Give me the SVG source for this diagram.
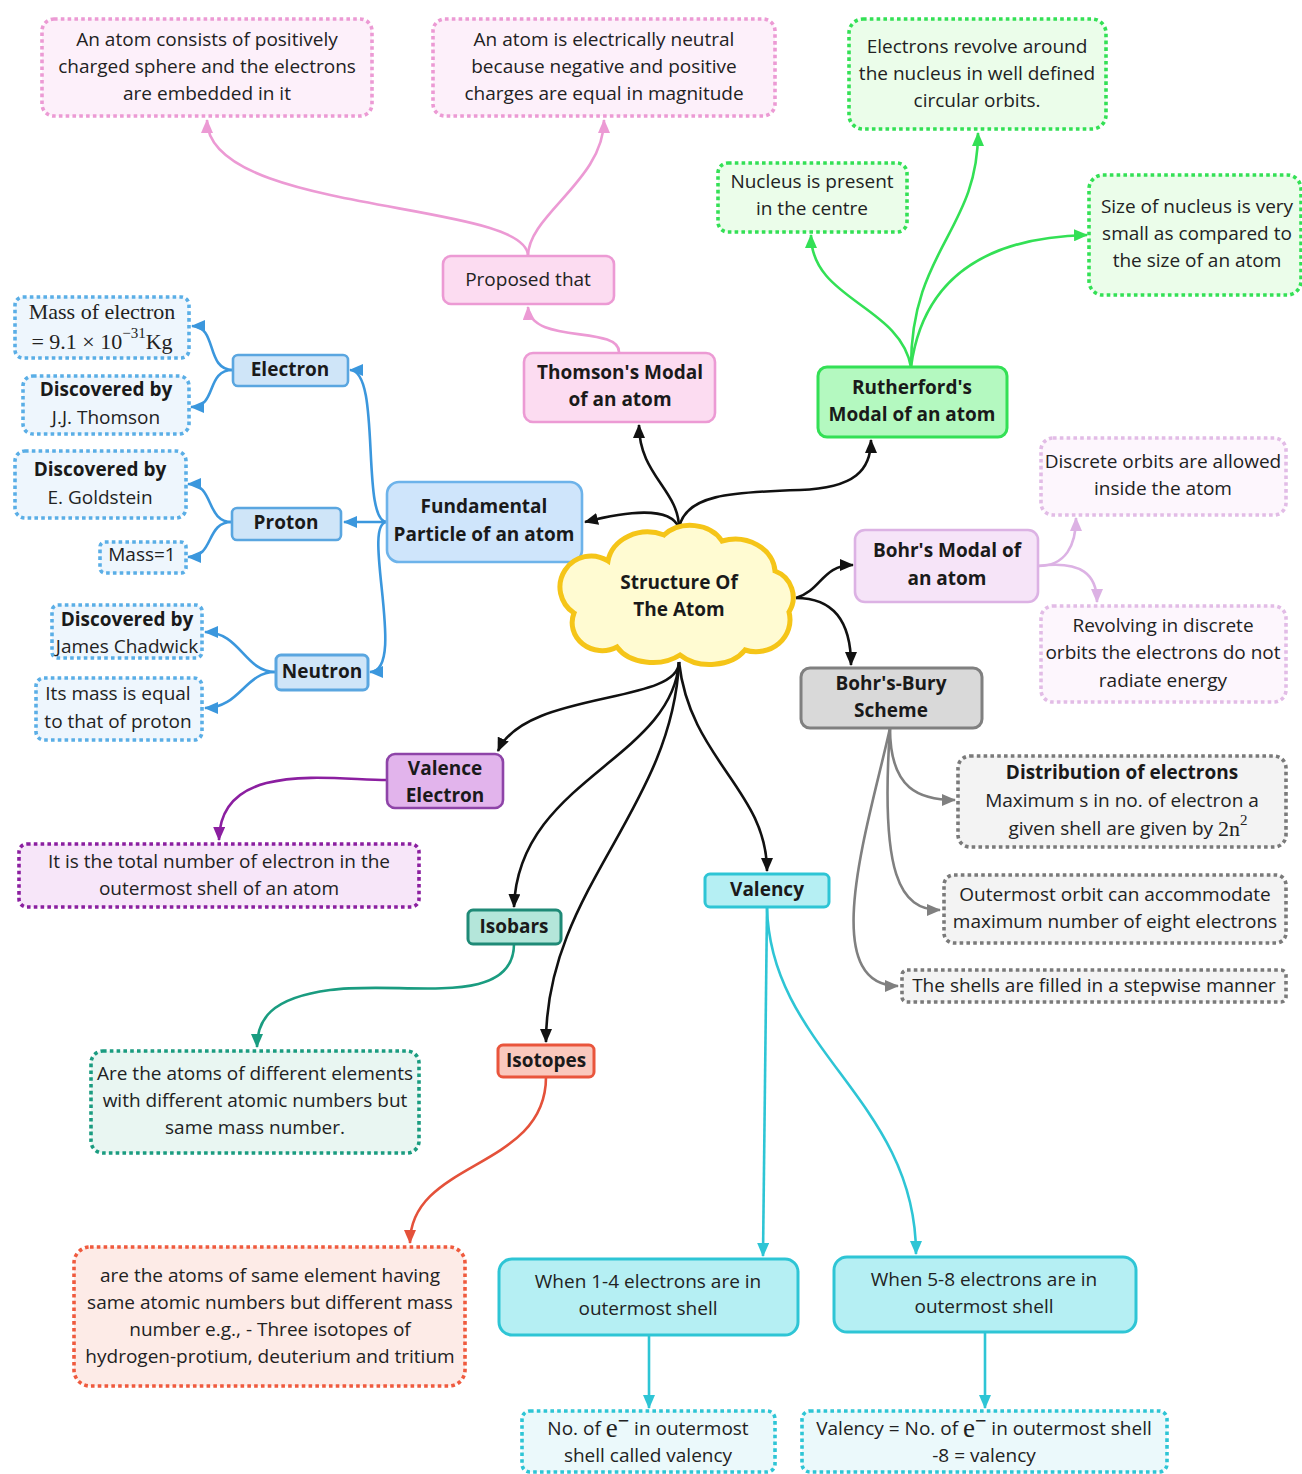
<svg xmlns="http://www.w3.org/2000/svg" width="1302" height="1474" viewBox="0 0 1302 1474">
<style>
text{font-family:"Open Sans","Noto Sans",sans-serif;font-size:19px;fill:#222;text-anchor:middle;dominant-baseline:central}
.b{font-weight:700;fill:#1a1a1a}
.m{font-family:"Liberation Serif","DejaVu Serif",serif;font-size:22px}
.c{fill:none;stroke-width:2.6}
.d{stroke-width:3.6;stroke-dasharray:3.6 3.2}
.s{stroke-width:2.6}
</style>
<defs>
<marker id="aK" viewBox="0 0 14 12" refX="13" refY="6" markerWidth="14" markerHeight="12" markerUnits="userSpaceOnUse" orient="auto"><path d="M0,0L14,6L0,12z" fill="#111"/></marker>
<marker id="aP" viewBox="0 0 14 12" refX="13" refY="6" markerWidth="14" markerHeight="12" markerUnits="userSpaceOnUse" orient="auto"><path d="M0,0L14,6L0,12z" fill="#ec9ad4"/></marker>
<marker id="aB" viewBox="0 0 14 12" refX="13" refY="6" markerWidth="14" markerHeight="12" markerUnits="userSpaceOnUse" orient="auto"><path d="M0,0L14,6L0,12z" fill="#3b97dd"/></marker>
<marker id="aG" viewBox="0 0 14 12" refX="13" refY="6" markerWidth="14" markerHeight="12" markerUnits="userSpaceOnUse" orient="auto"><path d="M0,0L14,6L0,12z" fill="#33e055"/></marker>
<marker id="aL" viewBox="0 0 14 12" refX="13" refY="6" markerWidth="14" markerHeight="12" markerUnits="userSpaceOnUse" orient="auto"><path d="M0,0L14,6L0,12z" fill="#dcb2e4"/></marker>
<marker id="aY" viewBox="0 0 14 12" refX="13" refY="6" markerWidth="14" markerHeight="12" markerUnits="userSpaceOnUse" orient="auto"><path d="M0,0L14,6L0,12z" fill="#808080"/></marker>
<marker id="aV" viewBox="0 0 14 12" refX="13" refY="6" markerWidth="14" markerHeight="12" markerUnits="userSpaceOnUse" orient="auto"><path d="M0,0L14,6L0,12z" fill="#8b1fa0"/></marker>
<marker id="aT" viewBox="0 0 14 12" refX="13" refY="6" markerWidth="14" markerHeight="12" markerUnits="userSpaceOnUse" orient="auto"><path d="M0,0L14,6L0,12z" fill="#1a9c80"/></marker>
<marker id="aO" viewBox="0 0 14 12" refX="13" refY="6" markerWidth="14" markerHeight="12" markerUnits="userSpaceOnUse" orient="auto"><path d="M0,0L14,6L0,12z" fill="#e4513a"/></marker>
<marker id="aC" viewBox="0 0 14 12" refX="13" refY="6" markerWidth="14" markerHeight="12" markerUnits="userSpaceOnUse" orient="auto"><path d="M0,0L14,6L0,12z" fill="#2ec5d5"/></marker>
</defs>
<rect width="1302" height="1474" fill="#fff"/>

<g id="connectors">
<g class="c" stroke="#ec9ad4">
<path d="M528,256 C528,200 207,215 207,120" marker-end="url(#aP)"/>
<path d="M528,256 C528,215 604,180 604,120" marker-end="url(#aP)"/>
<path d="M619,352 C619,325 530,345 528,307" marker-end="url(#aP)"/>
</g>
<g class="c" stroke="#111">
<path d="M679,528 C679,490 639,475 639,425" marker-end="url(#aK)"/>
<path d="M679,528 C670,505 625,512 585,522" marker-end="url(#aK)"/>
<path d="M679,528 C685,495 730,492 800,490 C855,488 871,470 871,440" marker-end="url(#aK)"/>
<path d="M796,598 C822,590 822,565 853,565" marker-end="url(#aK)"/>
<path d="M796,598 C832,598 851,620 851,665" marker-end="url(#aK)"/>
<path d="M679,662 C679,705 525,690 498,751" marker-end="url(#aK)"/>
<path d="M679,662 C672,760 518,780 514,907" marker-end="url(#aK)"/>
<path d="M679,662 C672,810 546,890 546,1042" marker-end="url(#aK)"/>
<path d="M679,662 C690,760 767,790 767,871" marker-end="url(#aK)"/>
</g>
<g class="c" stroke="#3b97dd">
<path d="M387,522 C360,522 382,370 350,370" marker-end="url(#aB)"/>
<path d="M387,522 L344,522" marker-end="url(#aB)"/>
<path d="M387,522 C360,522 408,672 370,672" marker-end="url(#aB)"/>
<path d="M233,370 C205,370 218,326 192,326" marker-end="url(#aB)"/>
<path d="M233,370 C205,370 218,407 191,407" marker-end="url(#aB)"/>
<path d="M232,522 C205,522 215,484 188,484" marker-end="url(#aB)"/>
<path d="M232,522 C205,522 215,557 188,557" marker-end="url(#aB)"/>
<path d="M275,672 C245,672 240,632 205,632" marker-end="url(#aB)"/>
<path d="M275,672 C245,672 240,708 205,708" marker-end="url(#aB)"/>
</g>
<g class="c" stroke="#33e055">
<path d="M911,367 C911,250 978,230 978,133" marker-end="url(#aG)"/>
<path d="M911,367 C900,305 811,300 811,235" marker-end="url(#aG)"/>
<path d="M911,367 C920,300 960,238 1087,235" marker-end="url(#aG)"/>
</g>
<g class="c" stroke="#dcb2e4">
<path d="M1038,566 C1066,566 1076,545 1076,518" marker-end="url(#aL)"/>
<path d="M1038,566 C1082,560 1097,575 1097,602" marker-end="url(#aL)"/>
</g>
<g class="c" stroke="#808080">
<path d="M890,728 C890,790 920,800 955,800" marker-end="url(#aY)"/>
<path d="M890,728 C880,875 900,910 940,910" marker-end="url(#aY)"/>
<path d="M890,728 C870,820 815,986 898,986" marker-end="url(#aY)"/>
</g>
<path class="c" stroke="#8b1fa0" d="M387,780 C330,780 220,760 219,840" marker-end="url(#aV)"/>
<path class="c" stroke="#1a9c80" d="M514,944 C514,1010 400,980 330,990 C270,998 257,1020 257,1047" marker-end="url(#aT)"/>
<path class="c" stroke="#e4513a" d="M546,1077 C546,1170 410,1160 410,1243" marker-end="url(#aO)"/>
<g class="c" stroke="#2ec5d5">
<path d="M767,907 L763,1256" marker-end="url(#aC)"/>
<path d="M767,907 C770,1050 916,1100 916,1254" marker-end="url(#aC)"/>
<path d="M649,1335 L649,1408" marker-end="url(#aC)"/>
<path d="M985,1332 L985,1408" marker-end="url(#aC)"/>
</g>
</g>

<g id="thomson-desc1"><rect class="d" x="42" y="19" width="330" height="97" rx="12" fill="#fdf0fa" stroke="#ec9ad4"/>
<text x="207" y="39">An atom consists of positively</text><text x="207" y="66">charged sphere and the electrons</text><text x="207" y="93">are embedded in it</text></g>
<g id="thomson-desc2"><rect class="d" x="433" y="19" width="342" height="97" rx="12" fill="#fdf0fa" stroke="#ec9ad4"/>
<text x="604" y="39">An atom is electrically neutral</text><text x="604" y="66">because negative and positive</text><text x="604" y="93">charges are equal in magnitude</text></g>
<g id="proposed"><rect class="s" x="443" y="256" width="171" height="48" rx="8" fill="#fcdcf1" stroke="#ec9ad4"/>
<text x="528" y="279">Proposed that</text></g>
<g id="thomson"><rect class="s" x="524" y="353" width="191" height="69" rx="9" fill="#fcdcf1" stroke="#ec9ad4"/>
<text class="b" x="620" y="372">Thomson's Modal</text><text class="b" x="620" y="399">of an atom</text></g>

<g id="ruth-desc1"><rect class="d" x="849" y="19" width="257" height="110" rx="14" fill="#ebfdea" stroke="#33e055"/>
<text x="977" y="46">Electrons revolve around</text><text x="977" y="73">the nucleus in well defined</text><text x="977" y="100">circular orbits.</text></g>
<g id="ruth-desc2"><rect class="d" x="718" y="163" width="189" height="69" rx="10" fill="#ebfdea" stroke="#33e055"/>
<text x="812" y="181">Nucleus is present</text><text x="812" y="208">in the centre</text></g>
<g id="ruth-desc3"><rect class="d" x="1089" y="175" width="212" height="120" rx="14" fill="#ebfdea" stroke="#33e055"/>
<text x="1197" y="206">Size of nucleus is very</text><text x="1197" y="233">small as compared to</text><text x="1197" y="260">the size of an atom</text></g>
<g id="rutherford"><rect x="818" y="367" width="189" height="70" rx="9" fill="#b4f9c0" stroke="#33e055" stroke-width="3"/>
<text class="b" x="912" y="387">Rutherford's</text><text class="b" x="912" y="414">Modal of an atom</text></g>

<g id="fundamental"><rect class="s" x="387" y="482" width="195" height="80" rx="12" fill="#cfe5fb" stroke="#6db3ea"/>
<text class="b" x="484" y="506">Fundamental</text><text class="b" x="484" y="534">Particle of an atom</text></g>
<g id="electron"><rect class="s" x="233" y="355" width="115" height="31" rx="5" fill="#cfe5f8" stroke="#5aa6e0"/>
<text class="b" x="290" y="369">Electron</text></g>
<g id="proton"><rect class="s" x="232" y="508" width="109" height="32" rx="5" fill="#cfe5f8" stroke="#5aa6e0"/>
<text class="b" x="286" y="522">Proton</text></g>
<g id="neutron"><rect x="276" y="655" width="92" height="35" rx="5" fill="#cfe5f8" stroke="#5aa6e0" stroke-width="3"/>
<text class="b" x="322" y="671">Neutron</text></g>
<g id="e-mass"><rect class="d" x="15" y="297" width="174" height="61" rx="8" fill="#eef6fd" stroke="#5aaee6"/>
<text class="m" x="102" y="311">Mass of electron</text><text class="m" x="102" y="341">= 9.1 × 10<tspan dy="-8" style="font-size:15px">−31</tspan><tspan dy="8">Kg</tspan></text></g>
<g id="e-disc"><rect class="d" x="23" y="376" width="166" height="58" rx="10" fill="#eef6fd" stroke="#5aaee6"/>
<text class="b" x="106" y="389">Discovered by</text><text x="106" y="417">J.J. Thomson</text></g>
<g id="p-disc"><rect class="d" x="15" y="451" width="171" height="67" rx="10" fill="#eef6fd" stroke="#5aaee6"/>
<text class="b" x="100" y="469">Discovered by</text><text x="100" y="497">E. Goldstein</text></g>
<g id="p-mass"><rect class="d" x="100" y="542" width="86" height="31" rx="5" fill="#eef6fd" stroke="#5aaee6"/>
<text x="142" y="554">Mass=1</text></g>
<g id="n-disc"><rect class="d" x="52" y="605" width="150" height="53" rx="6" fill="#eef6fd" stroke="#5aaee6"/>
<text class="b" x="127" y="619">Discovered by</text><text x="127" y="646">James Chadwick</text></g>
<g id="n-mass"><rect class="d" x="36" y="678" width="166" height="62" rx="8" fill="#eef6fd" stroke="#5aaee6"/>
<text x="118" y="693">Its mass is equal</text><text x="118" y="721">to that of proton</text></g>

<g id="structure"><path d="M608,561 A40,34 0 0 1 664,535 A36,30 0 0 1 722,541 A40,34 0 0 1 775,571 A28,28 0 0 1 789,612 A34,32 0 0 1 745,650 A40,28 0 0 1 680,655 A40,28 0 0 1 617,647 A30,28 0 0 1 574,613 A28,28 0 0 1 608,561 Z" fill="#fffbd2" stroke="#f5c518" stroke-width="5"/>
<text class="b" x="679" y="582">Structure Of</text><text class="b" x="679" y="609">The Atom</text></g>

<g id="bohr"><rect class="s" x="855" y="530" width="183" height="72" rx="10" fill="#f6e4f8" stroke="#dcb2e4"/>
<text class="b" x="947" y="550">Bohr's Modal of</text><text class="b" x="947" y="578">an atom</text></g>
<g id="bohr-desc1"><rect class="d" x="1041" y="438" width="245" height="77" rx="12" fill="#fdf6fd" stroke="#e2bce6"/>
<text x="1163" y="461">Discrete orbits are allowed</text><text x="1163" y="488">inside the atom</text></g>
<g id="bohr-desc2"><rect class="d" x="1041" y="606" width="245" height="96" rx="12" fill="#fdf6fd" stroke="#e2bce6"/>
<text x="1163" y="625">Revolving in discrete</text><text x="1163" y="652">orbits the electrons do not</text><text x="1163" y="680">radiate energy</text></g>

<g id="bohr-bury"><rect x="801" y="668" width="181" height="60" rx="9" fill="#d9d9d9" stroke="#808080" stroke-width="3"/>
<text class="b" x="891" y="683">Bohr's-Bury</text><text class="b" x="891" y="710">Scheme</text></g>
<g id="bb-desc1"><rect class="d" x="958" y="756" width="328" height="91" rx="12" fill="#f3f3f3" stroke="#7a7a7a"/>
<text class="b" x="1122" y="772">Distribution of electrons</text><text x="1122" y="800">Maximum s in no. of electron a</text><text x="1128" y="828">given shell are given by <tspan style="font-family:'Liberation Serif',serif;font-size:22px">2n</tspan><tspan dy="-8" style="font-family:'Liberation Serif',serif;font-size:15px">2</tspan></text></g>
<g id="bb-desc2"><rect class="d" x="944" y="875" width="342" height="68" rx="10" fill="#f3f3f3" stroke="#7a7a7a"/>
<text x="1115" y="894">Outermost orbit can accommodate</text><text x="1115" y="921">maximum number of eight electrons</text></g>
<g id="bb-desc3"><rect class="d" x="902" y="970" width="384" height="32" rx="5" fill="#f3f3f3" stroke="#7a7a7a"/>
<text x="1094" y="985">The shells are filled in a stepwise manner</text></g>

<g id="valence"><rect class="s" x="387" y="754" width="116" height="54" rx="8" fill="#e2b4ec" stroke="#8e44a8"/>
<text class="b" x="445" y="768">Valence</text><text class="b" x="445" y="795">Electron</text></g>
<g id="valence-desc"><rect class="d" x="19" y="844" width="400" height="63" rx="8" fill="#f7e6f9" stroke="#8b1fa0"/>
<text x="219" y="861">It is the total number of electron in the</text><text x="219" y="888">outermost shell of an atom</text></g>

<g id="isobars"><rect x="468" y="910" width="93" height="34" rx="5" fill="#b4e6da" stroke="#1f8a77" stroke-width="3"/>
<text class="b" x="514" y="926">Isobars</text></g>
<g id="isobars-desc"><rect class="d" x="91" y="1051" width="328" height="102" rx="12" fill="#e9f6f2" stroke="#1a9c80"/>
<text x="255" y="1073">Are the atoms of different elements</text><text x="255" y="1100">with different atomic numbers but</text><text x="255" y="1127">same mass number.</text></g>

<g id="isotopes"><rect x="498" y="1045" width="96" height="32" rx="5" fill="#fac8bd" stroke="#e9553c" stroke-width="3"/>
<text class="b" x="546" y="1060">Isotopes</text></g>
<g id="isotopes-desc"><rect class="d" x="74" y="1247" width="391" height="139" rx="16" fill="#fdebe7" stroke="#ef5a3e"/>
<text x="270" y="1275">are the atoms of same element having</text><text x="270" y="1302">same atomic numbers but different mass</text><text x="270" y="1329">number e.g., - Three isotopes of</text><text x="270" y="1356">hydrogen-protium, deuterium and tritium</text></g>

<g id="valency"><rect x="705" y="874" width="124" height="33" rx="5" fill="#b5eff3" stroke="#2ec5d5" stroke-width="3"/>
<text class="b" x="767" y="889">Valency</text></g>
<g id="v14"><rect x="499" y="1259" width="299" height="76" rx="13" fill="#b5eff3" stroke="#2ec5d5" stroke-width="3"/>
<text x="648" y="1281">When 1-4 electrons are in</text><text x="648" y="1308">outermost shell</text></g>
<g id="v58"><rect x="834" y="1257" width="302" height="75" rx="13" fill="#b5eff3" stroke="#2ec5d5" stroke-width="3"/>
<text x="984" y="1279">When 5-8 electrons are in</text><text x="984" y="1306">outermost shell</text></g>
<g id="v14-desc"><rect class="d" x="522" y="1411" width="253" height="61" rx="8" fill="#ebf9fb" stroke="#2ec5d5"/>
<text x="648" y="1428">No. of <tspan style="font-family:'Liberation Serif',serif;font-size:27px">e</tspan><tspan dy="-8" style="font-size:20px">−</tspan><tspan dy="8"> in outermost</tspan></text><text x="648" y="1455">shell called valency</text></g>
<g id="v58-desc"><rect class="d" x="802" y="1411" width="365" height="61" rx="8" fill="#ebf9fb" stroke="#2ec5d5"/>
<text x="984" y="1428">Valency = No. of <tspan style="font-family:'Liberation Serif',serif;font-size:27px">e</tspan><tspan dy="-8" style="font-size:20px">−</tspan><tspan dy="8"> in outermost shell</tspan></text><text x="984" y="1455">-8 = valency</text></g>
</svg>
